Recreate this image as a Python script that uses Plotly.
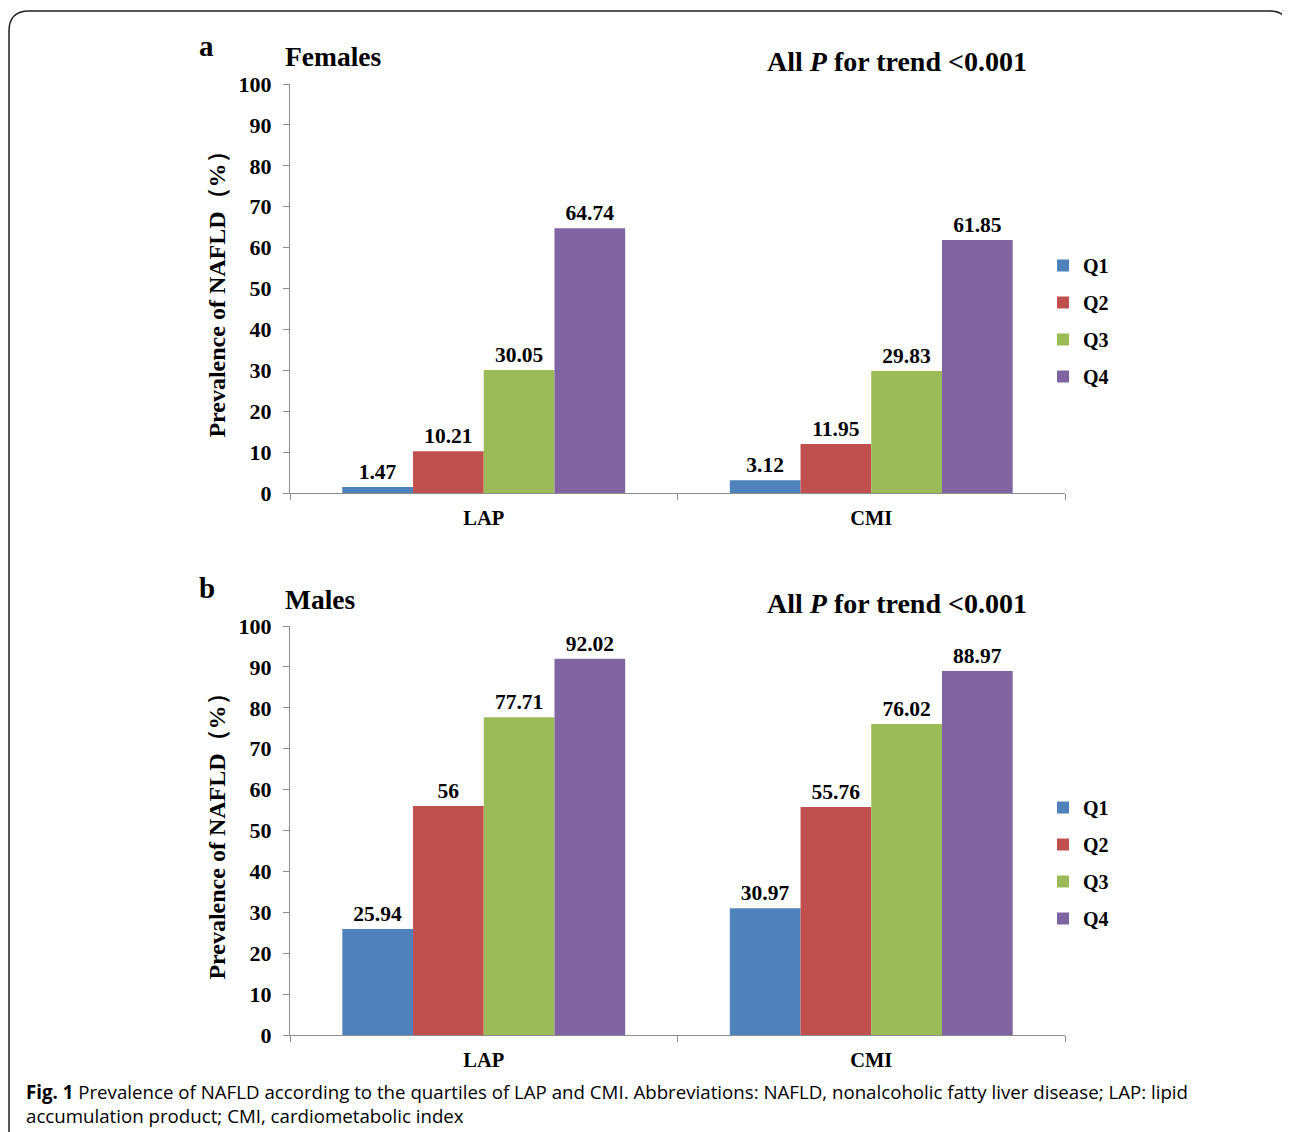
import plotly.graph_objects as go

categories = ["LAP", "CMI"]
quartiles = ["Q1", "Q2", "Q3", "Q4"]
colors = ["#4F81BD", "#C0504D", "#9BBB59", "#8064A2"]
females = {"Q1": [1.47, 3.12], "Q2": [10.21, 11.95], "Q3": [30.05, 29.83], "Q4": [64.74, 61.85]}
males = {"Q1": [25.94, 30.97], "Q2": [56, 55.76], "Q3": [77.71, 76.02], "Q4": [92.02, 88.97]}
y_ticks = list(range(0, 101, 10))

W, H = 1290, 1132
OFF = 8  # page body margin
def px(x): return (x - OFF) / W
def py(y): return 1 - (y - OFF) / H

SERIF = "Liberation Serif, Times New Roman, serif"
fig = go.Figure()

for panel, data, xa, ya, lg in [("a", females, "x", "y", "legend"), ("b", males, "x2", "y2", "legend2")]:
    for q, c in zip(quartiles, colors):
        vals = data[q]
        fig.add_trace(go.Bar(
            x=categories, y=vals, name=q, marker=dict(color=c, line=dict(width=0)),
            text=[f"{v:g}" for v in vals], textposition="outside",
            textfont=dict(family=SERIF, size=21.5, color="black", weight="bold"),
            cliponaxis=False, xaxis=xa, yaxis=ya, legend=lg, legendgroup=panel + q,
        ))

axis_common_x = dict(
    range=[-0.5, 1.5], showline=True, linecolor="#8c8c8c", linewidth=1.3,
    ticks="outside", tickson="boundaries", ticklen=6, tickcolor="#8c8c8c",
    tickfont=dict(family=SERIF, size=20.5, color="black", weight="bold"),
    ticklabelstandoff=6,
    showgrid=False, zeroline=False, domain=[px(290), px(1065)], automargin=False,
)
axis_common_y = dict(
    range=[0, 100], tickvals=y_ticks, showline=True, linecolor="#8c8c8c", linewidth=1.3,
    ticks="outside", ticklen=6, tickcolor="#8c8c8c",
    tickfont=dict(family=SERIF, size=22, color="black", weight="bold"),
    ticklabelstandoff=7,
    showgrid=False, zeroline=False, automargin=False,
    title=dict(text="Prevalence of NAFLD（%）", font=dict(family=SERIF, size=24, color="black", weight="bold"), standoff=6),
)

legend_common = dict(
    font=dict(family=SERIF, size=20, color="black", weight="bold"),
    tracegroupgap=8, bgcolor="rgba(0,0,0,0)", xanchor="left", yanchor="top",
    itemwidth=30,
)

fig.update_layout(
    template="none",
    width=W, height=H, margin=dict(l=0, r=0, t=0, b=0, autoexpand=False),
    paper_bgcolor="white", plot_bgcolor="white",
    barmode="group", bargap=0.27, bargroupgap=0,
    font=dict(family=SERIF, color="black"),
    xaxis=dict(axis_common_x, anchor="y"),
    yaxis=dict(axis_common_y, domain=[py(493), py(84)], anchor="x"),
    xaxis2=dict(axis_common_x, anchor="y2"),
    yaxis2=dict(axis_common_y, domain=[py(1035), py(626)], anchor="x2"),
    legend=dict(legend_common, x=px(1043), y=py(246)),
    legend2=dict(legend_common, x=px(1043), y=py(788)),
    showlegend=True,
)

def ann(text, x, y, size, xanchor="left", weight="bold", family=SERIF, align="left"):
    fig.add_annotation(text=text, x=px(x), y=py(y), xref="paper", yref="paper",
                       xanchor=xanchor, yanchor="middle", showarrow=False, align=align,
                       font=dict(family=family, size=size, color="black", weight=weight))

for label, sub, top in [("a", "Females", 0), ("b", "Males", 542)]:
    ann(label, 197, 46 + top, 29)
    ann(sub, 283, 57 + top, 27.5)
    ann("All <i>P</i> for trend &lt;0.001", 765, 61 + top, 28)

CAP = "Liberation Sans Narrow, Open Sans, sans-serif"
ann("<b>Fig. 1</b> Prevalence of NAFLD according to the quartiles of LAP and CMI. Abbreviations: NAFLD, nonalcoholic fatty liver disease; LAP: lipid<br>accumulation product; CMI, cardiometabolic index",
    24, 1103, 18.7, weight="normal", family=CAP)

# rounded frame
r = 20
path = (f"M {px(9)},{py(1145)} L {px(9)},{py(11 + r)} Q {px(9)},{py(11)} {px(9 + r)},{py(11)} "
        f"L {px(1289 - r)},{py(11)} Q {px(1289)},{py(11)} {px(1289)},{py(11 + r)} L {px(1289)},{py(1145)}")
fig.add_shape(type="path", path=path, xref="paper", yref="paper", line=dict(color="#222", width=1.5))

fig.write_html("out.html")
